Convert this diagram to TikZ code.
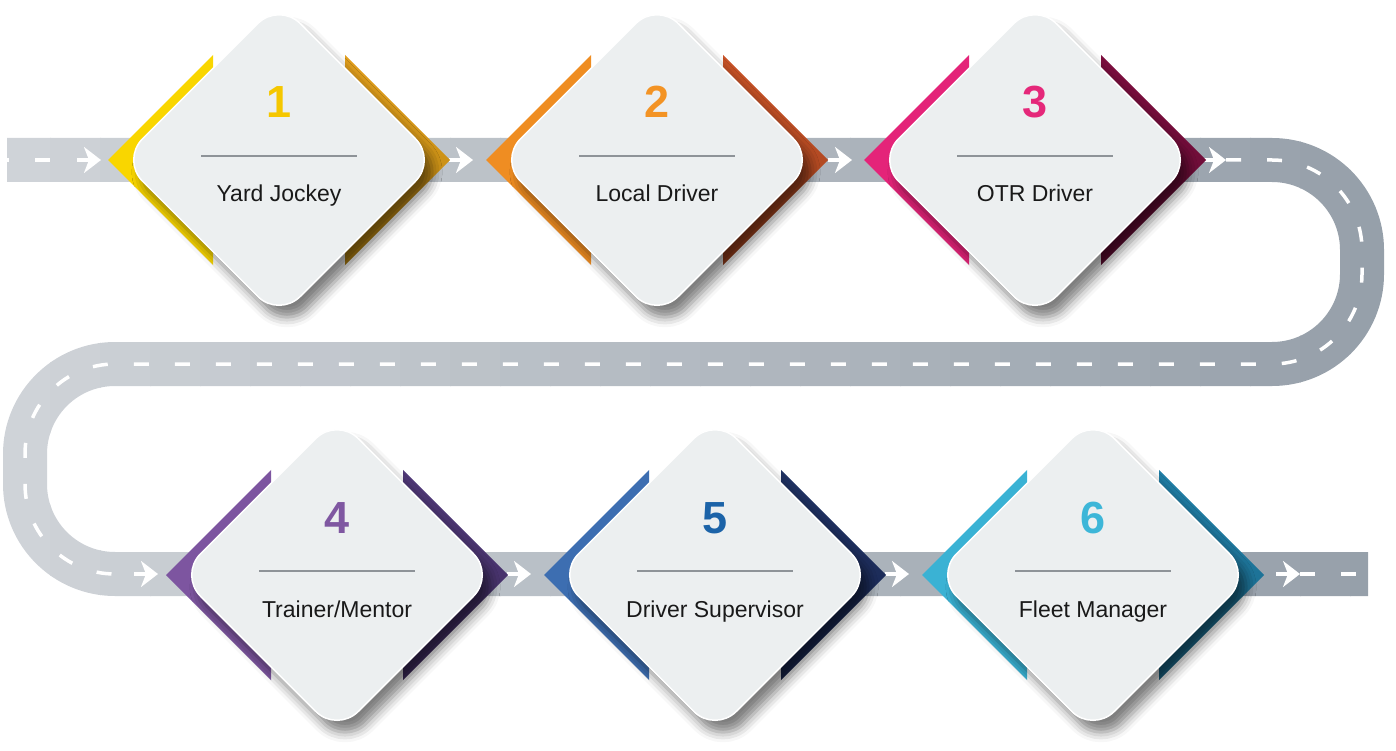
\documentclass[tikz,border=0pt]{standalone}
\usepackage{fontspec}
\setmainfont{Liberation Sans}
\usetikzlibrary{shapes.geometric, arrows.meta, shadows.blur}

\definecolor{roadlight}{HTML}{CFD3D8}
\definecolor{roaddark}{HTML}{96A0AA}
\definecolor{cardgray}{HTML}{ECEFF0}
\definecolor{rulegray}{HTML}{8E9398}
\definecolor{c1N}{HTML}{F5C700}\definecolor{c1L}{HTML}{F9D600}\definecolor{c1R}{HTML}{EFA620}\definecolor{c1D}{HTML}{AA7E0E}
\definecolor{c2N}{HTML}{F39324}\definecolor{c2L}{HTML}{EF8D22}\definecolor{c2R}{HTML}{D5582A}\definecolor{c2D}{HTML}{923C1B}
\definecolor{c3N}{HTML}{E5287A}\definecolor{c3L}{HTML}{E42479}\definecolor{c3R}{HTML}{840F42}\definecolor{c3D}{HTML}{5C0B30}
\definecolor{c4N}{HTML}{7F57A1}\definecolor{c4L}{HTML}{7D55A0}\definecolor{c4R}{HTML}{543B7D}\definecolor{c4D}{HTML}{3C2B5C}
\definecolor{c5N}{HTML}{1C63A8}\definecolor{c5L}{HTML}{3D6EB1}\definecolor{c5R}{HTML}{213568}\definecolor{c5D}{HTML}{18244C}
\definecolor{c6N}{HTML}{3DB6D8}\definecolor{c6L}{HTML}{3AB2D4}\definecolor{c6R}{HTML}{2386B0}\definecolor{c6D}{HTML}{17607F}

\newcommand\roadline{(7,160) -- (1362,160) -- (1362,364) -- (25,364) -- (25,574) -- (1368,574)}

\tikzset{
  road/.style={line width=44pt, rounded corners=90pt},
  lane/.style={white, line width=3.5pt, rounded corners=90pt, dash pattern=on 15pt off 26pt},
  roadarrow/.style={white, line width=3.5pt, -{Stealth[length=17pt, width=26pt, inset=5pt]}},
  card/.style={diamond, minimum width=316pt, minimum height=316pt, inner sep=0pt,
    rounded corners=30pt, fill=cardgray, draw=white, line width=1.5pt,
    blur shadow={shadow xshift=8pt, shadow yshift=-12pt, shadow blur radius=10pt, shadow opacity=50}},
  num/.style={font=\bfseries\fontsize{45}{45}\selectfont, anchor=base, inner sep=0pt},
  title/.style={font=\fontsize{23}{23}\selectfont, anchor=base, inner sep=0pt, text=black!90},
  divider/.style={rulegray, line width=2pt}
}

\begin{document}
\begin{tikzpicture}[x=1pt, y=-1pt]
  \useasboundingbox (0,0) rectangle (1396,751);
  % road, shaded left to right in strips
  \foreach \i in {0,...,27} {
    \pgfmathtruncatemacro\mix{100-\i*100/27}
    \begin{scope}
      \clip (\i*50,-10) rectangle (\i*50+51,760);
      \draw[road, roadlight!\mix!roaddark] \roadline;
    \end{scope}
  }
  % lane marks
  \draw[lane, dash phase=13pt] (7,160) -- (70,160);
  \draw[lane] (1226,160) -- (1362,160) -- (1362,364) -- (25,364) -- (25,574) -- (125,574);
  \draw[lane] (1300,574) -- (1368,574);
  \foreach \x/\y in {101/160, 473/160, 852/160, 1226/160, 158/574, 531/574, 909/574, 1300/574}
    \draw[roadarrow] (\x-24,\y) -- (\x,\y);
  % steps
  \foreach \n/\cx/\cy/\txt in {1/279/160/Yard Jockey, 2/657/160/Local Driver, 3/1035/160/OTR Driver,
      4/337/575/{Trainer/Mentor}, 5/715/575/Driver Supervisor, 6/1093/575/Fleet Manager} {
    \begin{scope}
      \clip (\cx-172,\cy-172) rectangle (\cx-66,\cy+172);
      \fill[c\n L] (\cx-171,\cy) -- (\cx,\cy-171) -- (\cx+171,\cy) -- (\cx,\cy+171) -- cycle;
    \end{scope}
    \begin{scope}
      \clip (\cx+66,\cy-172) rectangle (\cx+172,\cy+172);
      \shade[top color=c\n R, bottom color=c\n D] (\cx-171,\cy) -- (\cx,\cy-171) -- (\cx+171,\cy) -- (\cx,\cy+171) -- cycle;
    \end{scope}
    \node[card] (s\n) at (\cx,\cy) {};
    \node[num, text=c\n N] (n\n) at (\cx,\cy-42) {\n};
    \node[title] (t\n) at (\cx,\cy+42) {\txt};
    \draw[divider] (\cx-78,\cy-4) -- (\cx+78,\cy-4);
  }
\end{tikzpicture}
\end{document}
